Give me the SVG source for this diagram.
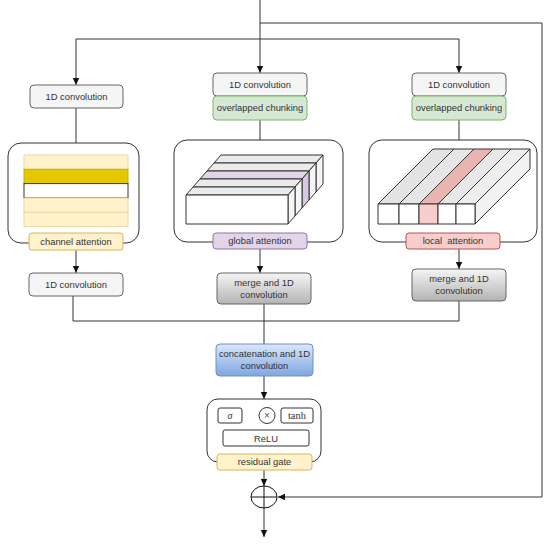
<svg xmlns="http://www.w3.org/2000/svg" width="550" height="547" viewBox="0 0 550 547">
<style>
text{font-family:"Liberation Sans",Arial,sans-serif;font-size:9.4px;fill:#333;text-anchor:middle}
.conn{fill:none;stroke:#333;stroke-width:1}
.cont{fill:#fff;stroke:#333;stroke-width:1}
.gray{fill:#f5f5f5;stroke:#666;stroke-width:1}
.green{fill:#d5e8d4;stroke:#82b366;stroke-width:1}
.yel{fill:#fff2cc;stroke:#d6b656;stroke-width:1}
.pur{fill:#e1d5e7;stroke:#9673a6;stroke-width:1}
.red{fill:#f8cecc;stroke:#b85450;stroke-width:1}
.merge{fill:url(#gGray);stroke:#666;stroke-width:1}
.blue{fill:url(#gBlue);stroke:#6c8ebf;stroke-width:1}
.blk{stroke:#333;stroke-width:1;stroke-linejoin:round}
.inner{fill:#fff;stroke:#333;stroke-width:1}
</style>
<defs>
<marker id="arr" markerWidth="8" markerHeight="8" refX="7" refY="4" orient="auto" markerUnits="userSpaceOnUse">
<path d="M0,0.8 L7,4 L0,7.2 Z" fill="#111"/>
</marker>
<linearGradient id="gGray" x1="0" y1="0" x2="0" y2="1"><stop offset="0" stop-color="#f5f5f5"/><stop offset="1" stop-color="#b3b3b3"/></linearGradient>
<linearGradient id="gBlue" x1="0" y1="0" x2="0" y2="1"><stop offset="0" stop-color="#dae8fc"/><stop offset="1" stop-color="#7ea6e0"/></linearGradient>
</defs>

<g id="connectors">
<path class="conn" d="M260,0 V73" marker-end="url(#arr)"/>
<path class="conn" d="M260,23 H542 V497 H278" marker-end="url(#arr)"/>
<path class="conn" d="M260,39 H76 V85" marker-end="url(#arr)"/>
<path class="conn" d="M260,39 H459 V73" marker-end="url(#arr)"/>
<path class="conn" d="M76,108 V143"/>
<path class="conn" d="M260,120 V140"/>
<path class="conn" d="M459,120 V140"/>
<path class="conn" d="M76,250 V273" marker-end="url(#arr)"/>
<path class="conn" d="M260,249 V273" marker-end="url(#arr)"/>
<path class="conn" d="M459,249 V269" marker-end="url(#arr)"/>
<path class="conn" d="M73,296 V321 H459 V301"/>
<path class="conn" d="M264,304 V344"/>
<path class="conn" d="M264,376 V399" marker-end="url(#arr)"/>
<path class="conn" d="M264,470 V486" marker-end="url(#arr)"/>
<path class="conn" d="M264,508 V537" marker-end="url(#arr)"/>
</g>

<!-- left column -->
<g id="conv-left-top">
<rect class="gray" x="30" y="85" width="93" height="23" rx="4"/>
<text x="76.5" y="99.8">1D convolution</text>
</g>
<g id="channel-attention-block">
<rect class="cont" x="8" y="143" width="131" height="100" rx="13"/>
<rect x="24" y="155" width="104" height="14.3" fill="#fff2cc" stroke="#e8d8a0"/>
<rect x="24" y="169.3" width="104" height="14.3" fill="#e3c800" stroke="#c8b000"/>
<rect x="24" y="183.6" width="104" height="14.3" fill="#fff" stroke="#333"/>
<rect x="24" y="198" width="104" height="14.3" fill="#fff2cc" stroke="#e8d8a0"/>
<rect x="24" y="212.3" width="104" height="14.3" fill="#fff2cc" stroke="#e8d8a0"/>
<rect class="yel" x="29" y="233" width="94" height="17" rx="3"/>
<text x="76" y="244.8">channel attention</text>
</g>
<g id="conv-left-bottom">
<rect class="gray" x="29" y="273" width="94" height="23" rx="4"/>
<text x="76" y="287.8">1D convolution</text>
</g>

<!-- middle column -->
<g id="conv-mid-top">
<rect class="gray" x="213" y="73" width="94" height="23" rx="4"/>
<text x="260" y="87.8">1D convolution</text>
</g>
<g id="chunk-mid">
<rect class="green" x="213" y="96" width="94" height="24" rx="4"/>
<text x="260" y="111.3">overlapped chunking</text>
</g>
<g id="global-attention-block">
<rect class="cont" x="174" y="140" width="169" height="102" rx="13"/>
<!-- chunk 4 (back) -->
<polygon class="blk" fill="#ebebeb" points="214,163 221,155 323,155 316,163"/>
<polygon class="blk" fill="#f5f5f5" points="316,163 323,155 323,184 316,192"/>
<!-- chunk 3 -->
<polygon class="blk" fill="#ebebeb" points="207,171 214,163 316,163 309,171"/>
<polygon class="blk" fill="#f5f5f5" points="309,171 316,163 316,192 309,200"/>
<!-- chunk 2 (purple) -->
<polygon class="blk" fill="#e1d5e7" points="200,179 207,171 309,171 302,179"/>
<polygon class="blk" fill="#d9c8e0" points="302,179 309,171 309,200 302,208"/>
<!-- chunk 1 -->
<polygon class="blk" fill="#ebebeb" points="193,187 200,179 302,179 295,187"/>
<polygon class="blk" fill="#f5f5f5" points="295,187 302,179 302,208 295,216"/>
<!-- chunk 0 (front) -->
<polygon class="blk" fill="#ebebeb" points="186,195 193,187 295,187 288,195"/>
<polygon class="blk" fill="#f5f5f5" points="288,195 295,187 295,216 288,224"/>
<rect class="blk" fill="#fff" x="186" y="195" width="102" height="29"/>
<rect class="pur" x="213" y="233" width="94" height="16" rx="3"/>
<text x="260" y="244.3">global attention</text>
</g>
<g id="merge-mid">
<rect class="merge" x="217" y="273" width="94" height="31" rx="4"/>
<text x="264" y="285.5">merge and 1D</text>
<text x="264" y="297.5">convolution</text>
</g>

<!-- right column -->
<g id="conv-right-top">
<rect class="gray" x="412" y="73" width="94" height="23" rx="4"/>
<text x="459" y="87.8">1D convolution</text>
</g>
<g id="chunk-right">
<rect class="green" x="412" y="96" width="94" height="24" rx="4"/>
<text x="459" y="111.3">overlapped chunking</text>
</g>
<g id="local-attention-block">
<rect class="cont" x="369" y="140" width="168" height="102" rx="13"/>
<!-- right side face -->
<polygon class="blk" fill="#f2f2f2" points="475,204 530,149 530,169 475,224"/>
<!-- top strips -->
<polygon class="blk" fill="#e3e3e3" points="378,204 433,149 454,149 399,204"/>
<polygon class="blk" fill="#e6e6e6" points="399,204 454,149 474,149 419,204"/>
<polygon class="blk" fill="#eab4b2" points="419,204 474,149 493,149 438,204"/>
<polygon class="blk" fill="#e8e8e8" points="438,204 493,149 511,149 456,204"/>
<polygon class="blk" fill="#eeeeee" points="456,204 511,149 530,149 475,204"/>
<!-- front faces -->
<rect class="blk" fill="#fff" x="378" y="204" width="21" height="20"/>
<rect class="blk" fill="#fff" x="399" y="204" width="20" height="20"/>
<rect class="blk" fill="#f8cecc" x="419" y="204" width="19" height="20"/>
<rect class="blk" fill="#fff" x="438" y="204" width="18" height="20"/>
<rect class="blk" fill="#fff" x="456" y="204" width="19" height="20"/>
<rect class="red" x="406" y="233" width="94" height="16" rx="3"/>
<text x="453" y="244.3" style="white-space:pre" xml:space="preserve">local  attention</text>
</g>
<g id="merge-right">
<rect class="merge" x="412" y="269" width="94" height="32" rx="4"/>
<text x="459" y="282">merge and 1D</text>
<text x="459" y="294">convolution</text>
</g>

<!-- bottom -->
<g id="concat">
<rect class="blue" x="216" y="344" width="97" height="32" rx="4"/>
<text x="264.5" y="357">concatenation and 1D</text>
<text x="264.5" y="369">convolution</text>
</g>
<g id="residual-gate-block">
<rect class="cont" x="207" y="399" width="114" height="63" rx="11"/>
<rect class="inner" x="218" y="408" width="24" height="15" rx="2"/>
<text x="230" y="419" style="font-family:'Liberation Serif','DejaVu Serif',serif;font-style:italic;font-size:10px">σ</text>
<circle class="inner" cx="267" cy="415.5" r="8"/>
<text x="267" y="419" style="font-size:10px;fill:#555">×</text>
<rect class="inner" x="281" y="408" width="32" height="15" rx="2"/>
<text x="297" y="419" style="font-family:'Liberation Serif','DejaVu Serif',serif;font-size:10.5px">tanh</text>
<rect class="inner" x="223" y="430" width="86" height="16" rx="2"/>
<text x="266" y="441.5">ReLU</text>
<rect class="yel" x="217" y="454" width="95" height="16" rx="3"/>
<text x="264.5" y="465.3">residual gate</text>
</g>
<g id="sum">
<ellipse cx="264" cy="497" rx="13" ry="11" fill="#fff" stroke="#111" stroke-width="1"/>
<path d="M251,497 H277 M264,486 V508" stroke="#111" stroke-width="1"/>
</g>
</svg>
